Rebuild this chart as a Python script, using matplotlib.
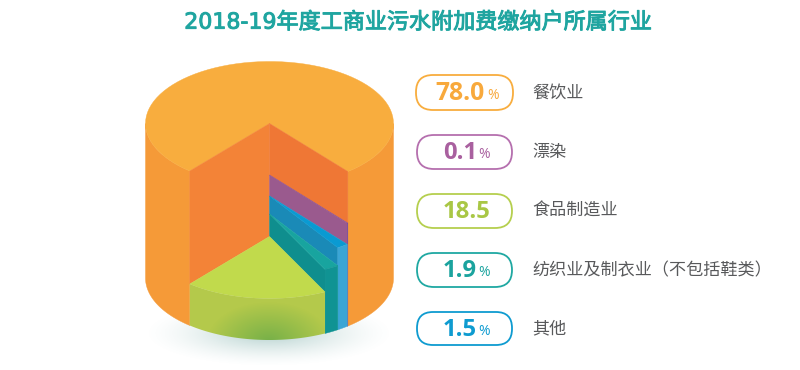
import numpy as np
import matplotlib
matplotlib.use("Agg")
import matplotlib.pyplot as plt
import matplotlib.patheffects as pe
from matplotlib.patches import FancyBboxPatch, Polygon

title = "2018-19年度工商业污水附加费缴纳户所属行业"
categories = ["餐饮业", "漂染", "食品制造业", "纺织业及制衣业（不包括鞋类）", "其他"]
values = [78.0, 0.1, 18.5, 1.9, 1.5]
suffix = ["%", "%", "", "%", "%"]

# colours, legend order
pill_colors = ["#F8AD3E", "#B56FAE", "#B5CF4E", "#1FA8A2", "#0E9BD0"]
value_colors = ["#F8A93C", "#A9609F", "#A9C745", "#1BA39E", "#0E9BD0"]

# pie layout (pixels)
cx, rx, ry = 269.5, 124, 62
top_y, bottom_y = 123.5, 278
start_angle = -40.0  # degrees from straight down, going right

# order round the cut out bit: food, textile, other, dyeing, catering
order = [2, 3, 4, 1, 0]
level_y = {2: 236.5, 3: 214, 4: 196, 1: 175, 0: 123.5}  # how high each slice stands
top_colors = {2: "#C1DA4C", 3: "#18A49F", 4: "#0A9AD2", 1: "#9A5A8E", 0: "#F8AD3E"}
wall_colors = {3: "#0F8E8E", 4: "#1A8AB7", 1: "#9A5A8E", 0: "#EF7735"}
side_colors = {3: "#109393", 4: "#3AA5D5", 1: "#7A4F9B", 0: "#F59A38"}

pill_x = [416, 417, 417, 417, 417]
pill_w = [97, 95, 95, 95, 95]
pill_y = [75, 135, 194, 253, 312]
pill_h = [35, 34, 34, 34, 33]
value_x = [435, 443, 443, 443, 443]
pct_x = [487, 478, 0, 478, 478]
value_size = [17.8, 17.2, 17.2, 17.2, 17.2]

fig = plt.figure(figsize=(8, 3.7), dpi=100)
ax = fig.add_axes([0, 0, 1, 1])
ax.set_xlim(0, 800)
ax.set_ylim(370, 0)
ax.axis("off")


def rim(a0, a1, y0):
    t = np.radians(np.linspace(a0, a1, 80))
    return np.column_stack([cx + rx * np.sin(t), y0 + ry * np.cos(t)])


def fill(pts, color, z):
    ax.add_patch(Polygon(pts, closed=True, fc=color, ec=color, lw=0.3, zorder=z))


def gradient(x0, x1, y0, y1, rgba, z, clip=None):
    im = ax.imshow(rgba, extent=(x0, x1, y1, y0), aspect="auto", zorder=z, interpolation="bilinear")
    if clip is not None:
        im.set_clip_path(Polygon(clip, closed=True, transform=ax.transData))
    return im


# soft shadow under the cylinder
gx, gy = np.meshgrid(np.linspace(130, 410, 280), np.linspace(300, 370, 70))
shade = np.clip(1 - np.sqrt(((gx - 269) / 125) ** 2 + ((gy - 333) / 34) ** 2), 0, 1) ** 1.5
shadow = np.zeros(gx.shape + (4,))
shadow[..., 0:3] = np.array([125, 175, 170]) / 255
shadow[..., 3] = 0.6 * shade
gradient(130, 410, 300, 370, shadow, 1)

# slice angles come from the shares
angles = {}
a = start_angle
for i in order:
    angles[i] = (a, a + values[i] * 3.6)
    a += values[i] * 3.6

cut_end = angles[0][0]

# orange body and top
fill(np.vstack([rim(-90, start_angle, top_y), rim(start_angle, -90, bottom_y)]), side_colors[0], 2)
fill(np.vstack([rim(cut_end, 90, top_y), rim(90, cut_end, bottom_y)]), side_colors[0], 2)
fill(np.vstack([[[cx, top_y]], rim(cut_end, 360 + start_angle, top_y)]), top_colors[0], 3)

# back wall on the left of the cut out
left = rim(start_angle, start_angle, top_y)[0]
fill([[cx, top_y], left, [left[0], level_y[2] + ry * np.cos(np.radians(start_angle))], [cx, level_y[2]]], "#F38337", 3)

# go from the tallest slice to the lowest so nearer ones paint over
z = 10
back_to_front = order[::-1]
for n, i in enumerate(back_to_front):
    a0, a1 = angles[i]
    y = level_y[i]
    if n < len(order) - 1:
        yl = level_y[back_to_front[n + 1]]
        c = np.cos(np.radians(a0))
        ex = cx + rx * np.sin(np.radians(a0))
        fill([[cx, y], [ex, y + ry * c], [ex, yl + ry * c], [cx, yl]], wall_colors[i], z)
    if i != 0:
        fill(np.vstack([[[cx, y]], rim(a0, a1, y)]), top_colors[i], z + 1)
        if i != 2:
            fill(np.vstack([rim(a0, a1, y), rim(a1, a0, bottom_y)]), side_colors[i], z + 1)
    z += 2

# green slice outer side has a glow at the bottom
a0, a1 = angles[2]
y = level_y[2]
clip = np.vstack([rim(a0, a1, y), rim(a1, a0, bottom_y)])
gx, gy = np.meshgrid(np.linspace(180, 330, 150), np.linspace(280, 345, 65))
d = np.clip(np.sqrt(((gx - 269) / 62) ** 2 + ((gy - 342) / 40) ** 2), 0, 1)
glow = np.ones(gx.shape + (4,))
for k, (c0, c1) in enumerate(zip((118, 176, 72), (180, 201, 75))):
    glow[..., k] = (c0 + (c1 - c0) * d) / 255
gradient(180, 330, 280, 345, glow, 30, clip)

ax.set_xlim(0, 800)
ax.set_ylim(370, 0)

# title, thin stroke to get the weight between regular and bold
ax.text(418.5, 22, title, ha="center", va="center", fontsize=15.9,
        color="#1FA5A0", family=["DejaVu Sans", "Noto Sans CJK SC"],
        path_effects=[pe.withStroke(linewidth=0.7, foreground="#1FA5A0")])

# legend pills
for i in range(len(categories)):
    ax.add_patch(FancyBboxPatch((pill_x[i], pill_y[i]), pill_w[i], pill_h[i],
                                boxstyle="round,pad=0,rounding_size=%d" % (pill_h[i] / 2),
                                fc="white", ec=pill_colors[i], lw=1.3, zorder=40))
    mid = pill_y[i] + pill_h[i] / 2
    ax.text(value_x[i], mid - 2, "%.1f" % values[i], ha="left", va="center_baseline", fontsize=value_size[i],
            fontweight="bold", family="Open Sans", color=value_colors[i], zorder=41)
    if suffix[i]:
        ax.text(pct_x[i], mid + 1, suffix[i], ha="left", va="center_baseline", fontsize=10,
                family="Open Sans", color=value_colors[i], zorder=41)
    ax.text(532, mid - 2, categories[i], ha="left", va="center_baseline", fontsize=12.3,
            family="Noto Sans CJK SC", color="#58595B", zorder=41)

fig.savefig("out.png", dpi=100)
